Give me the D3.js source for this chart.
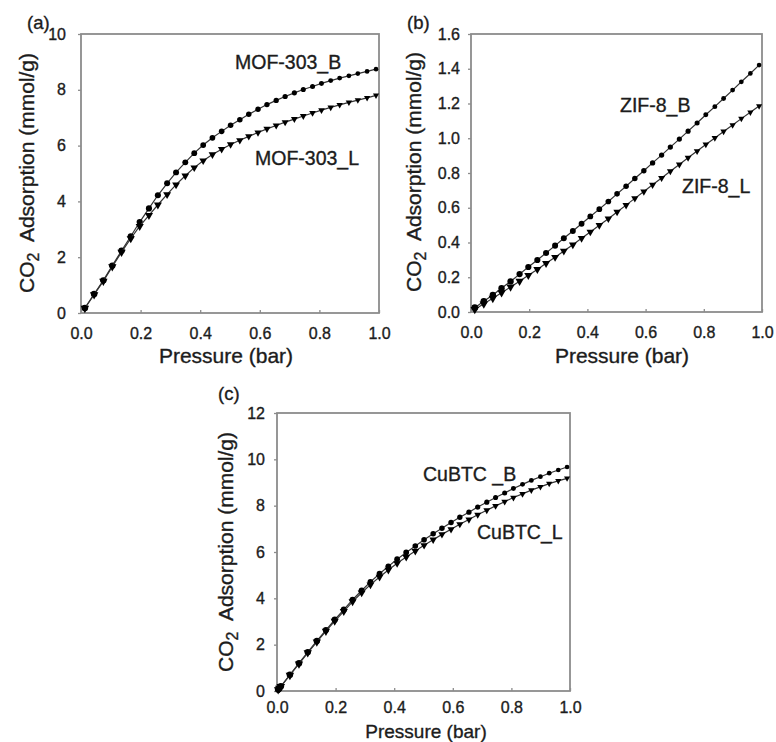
<!DOCTYPE html>
<html>
<head>
<meta charset="utf-8">
<script src="https://cdn.jsdelivr.net/npm/d3@7"></script>
<style>
  body { margin: 0; background: #fff; }
  svg text { font-family: "Liberation Sans", Arial, sans-serif; fill: #1c1c1c; stroke: #1c1c1c; stroke-width: 0.35px; }
</style>
</head>
<body>
<svg id="fig" width="776" height="742"></svg>
<script>
// pressure (bar)
let pressure = [0.013,0.044,0.075,0.105,0.136,0.167,0.197,0.228,0.258,0.289,0.319,0.35,0.38,0.41,0.441,0.472,
  0.502,0.533,0.563,0.594,0.624,0.655,0.685,0.716,0.746,0.777,0.807,0.838,0.868,0.899,0.929,0.96,0.99];
let pressureC = [0.004,0.008].concat(pressure);

// CO2 uptake (mmol/g)
let mof303B = [0.18,0.68,1.17,1.70,2.23,2.75,3.26,3.75,4.22,4.65,5.04,5.40,5.73,6.02,6.28,6.51,
  6.73,6.93,7.12,7.30,7.47,7.62,7.76,7.89,8.01,8.12,8.23,8.33,8.42,8.50,8.58,8.66,8.74];
let mof303L = [0.17,0.66,1.14,1.66,2.18,2.67,3.11,3.50,3.88,4.25,4.60,4.92,5.21,5.46,5.68,5.87,
  6.04,6.19,6.33,6.47,6.60,6.72,6.84,6.95,7.06,7.17,7.27,7.37,7.46,7.55,7.63,7.71,7.80];
let zif8B = [0.025,0.062,0.098,0.137,0.176,0.218,0.259,0.299,0.340,0.382,0.424,0.466,0.508,0.550,0.592,0.636,
  0.680,0.724,0.768,0.813,0.858,0.903,0.949,0.995,1.041,1.088,1.135,1.182,1.229,1.277,1.325,1.373,1.421];
let zif8L = [0.015,0.047,0.079,0.111,0.144,0.177,0.211,0.245,0.280,0.315,0.351,0.387,0.424,0.461,0.499,0.537,
  0.576,0.615,0.654,0.693,0.732,0.771,0.810,0.849,0.888,0.926,0.964,1.002,1.039,1.076,1.113,1.149,1.185];
let cubtcB = [0.06,0.12,0.2,0.7,1.2,1.68,2.16,2.63,3.08,3.51,3.94,4.34,4.71,5.06,5.38,5.69,5.98,6.26,
  6.53,6.79,7.03,7.27,7.50,7.72,7.94,8.15,8.35,8.55,8.74,8.92,9.09,9.25,9.40,9.54,9.67];
let cubtcL = [0.06,0.12,0.19,0.68,1.17,1.65,2.12,2.58,3.02,3.44,3.86,4.24,4.59,4.92,5.22,5.51,5.78,6.04,
  6.29,6.53,6.76,6.98,7.20,7.40,7.61,7.80,7.99,8.17,8.35,8.51,8.67,8.81,8.95,9.07,9.18];

let xTicks = [0,0.2,0.4,0.6,0.8,1.0];
let yTicksA = [0,2,4,6,8,10];
let yTicksB = [0,0.2,0.4,0.6,0.8,1.0,1.2,1.4,1.6];
let yTicksC = [0,2,4,6,8,10,12];

let panels = [
  {tag:"(a)", x:pressure, b:mof303B, l:mof303L, yMax:10, yTicks:yTicksA, yFmt:d3.format("d"),
   left:81, right:379, top:34, bottom:313, yPad:12, xOff:15, tagPos:[27,29], yLab:[34,173],
   xLab:[226,363,21], bLab:["MOF-303_B",235,69], lLab:["MOF-303_L",255,165]},
  {tag:"(b)", x:pressure, b:zif8B, l:zif8L, yMax:1.6, yTicks:yTicksB, yFmt:d3.format(".1f"),
   left:471, right:762, top:34, bottom:312, yPad:8, xOff:15, tagPos:[407,29], yLab:[421,172],
   xLab:[622,363,21], bLab:["ZIF-8_B",620,112], lLab:["ZIF-8_L",682,193]},
  {tag:"(c)", x:pressureC, b:cubtcB, l:cubtcL, yMax:12, yTicks:yTicksC, yFmt:d3.format("d"),
   left:277, right:570, top:413, bottom:691, yPad:9, xOff:11, tagPos:[218,400], yLab:[233,552],
   xLab:[426,737.5,19], bLab:["CuBTC _B",423,481], lLab:["CuBTC_L",477,539]}
];

let svg = d3.select("#fig");

function drawPanel(p){
  let g = svg.append("g");
  let x = d3.scaleLinear().domain([0,1]).range([p.left,p.right]);
  let y = d3.scaleLinear().domain([0,p.yMax]).range([p.bottom,p.top]);

  // x ticks point inwards, y ticks outwards
  let xAxis = g.append("g").attr("transform","translate(0,"+p.bottom+")")
    .call(d3.axisBottom(x).tickValues(xTicks).tickFormat(d3.format(".1f")).tickSize(-3).tickPadding(14));
  let yAxis = g.append("g").attr("transform","translate("+p.left+",0)")
    .call(d3.axisLeft(y).tickValues(p.yTicks).tickFormat(p.yFmt).tickSize(3).tickPadding(p.yPad));
  [xAxis,yAxis].forEach(function(a){
    a.select(".domain").remove();
    a.selectAll("line").attr("stroke","#8c8c8c").attr("stroke-width",1.3);
    a.selectAll("text").style("font-size","16px").style("fill","#1c1c1c");
  });
  xAxis.selectAll("text").attr("y",p.xOff);

  g.append("rect")
    .attr("x",p.left).attr("y",p.top)
    .attr("width",p.right-p.left).attr("height",p.bottom-p.top)
    .attr("fill","none").attr("stroke","#8c8c8c").attr("stroke-width",1.8);

  let rScale = d3.scaleLinear().domain([0,1]).range([3.3,2.3]);
  let tScale = d3.scaleLinear().domain([0,1]).range([32,16]);

  [p.b,p.l].forEach(function(vals,k){
    let pts = vals.map(function(v,i){ return [p.x[i],v]; });
    g.append("path").datum(pts)
      .attr("fill","none").attr("stroke","#333").attr("stroke-width",1.2)
      .attr("d", d3.line().x(function(d){return x(d[0]);}).y(function(d){return y(d[1]);}));
    if (k == 0){
      g.selectAll(null).data(pts).enter().append("circle")
        .attr("cx",function(d){return x(d[0]);})
        .attr("cy",function(d){return y(d[1]);})
        .attr("r",function(d){return rScale(d[0]);})
        .attr("fill","#000");
    } else {
      g.selectAll(null).data(pts).enter().append("path")
        .attr("d",function(d){ return d3.symbol().type(d3.symbolTriangle).size(tScale(d[0]))(); })
        .attr("transform",function(d){ return "translate("+x(d[0])+","+y(d[1])+") rotate(180)"; })
        .attr("fill","#000");
    }
  });

  // series labels
  [p.bLab,p.lLab].forEach(function(lb){
    g.append("text").attr("x",lb[1]).attr("y",lb[2]).style("font-size","19.5px").text(lb[0]);
  });

  // panel tag
  g.append("text").attr("x",p.tagPos[0]).attr("y",p.tagPos[1]).style("font-size","18.5px").text(p.tag);

  // axis titles
  g.append("text").attr("x",p.xLab[0]).attr("y",p.xLab[1]).attr("text-anchor","middle")
    .style("font-size",p.xLab[2]+"px").text("Pressure (bar)");
  let yt = g.append("text")
    .attr("transform","translate("+p.yLab[0]+","+p.yLab[1]+") rotate(-90)")
    .attr("text-anchor","middle").style("font-size","21px");
  yt.append("tspan").text("CO");
  yt.append("tspan").attr("dy",5).style("font-size","16px").text("2");
  yt.append("tspan").attr("dy",-5).text("\u00a0 Adsorption (mmol/g)");
}

panels.forEach(drawPanel);
</script>
</body>
</html>
